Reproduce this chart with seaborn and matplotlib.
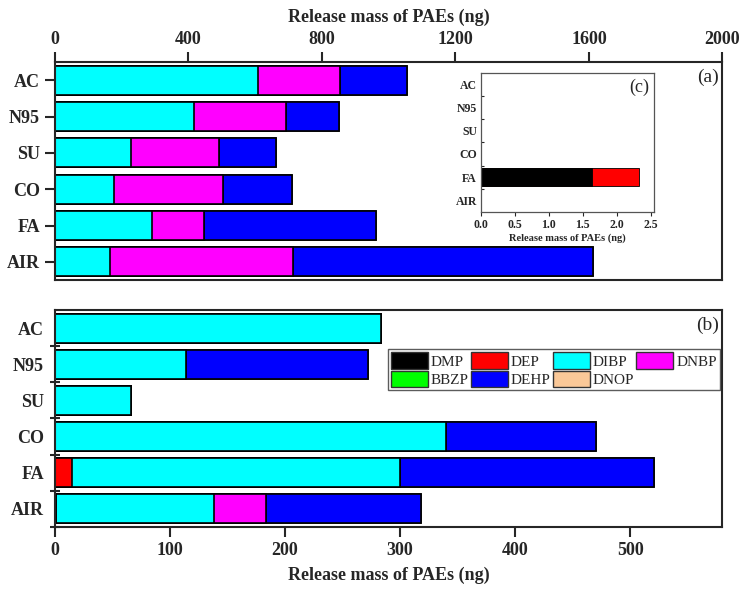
import numpy as np
import pandas as pd
import seaborn as sns
import matplotlib.pyplot as plt
from matplotlib.patches import Patch

sites = ['AC', 'N95', 'SU', 'CO', 'FA', 'AIR']
paes = ['DMP', 'DEP', 'DIBP', 'DNBP', 'BBZP', 'DEHP', 'DNOP']
colors = ['#000000', '#ff0000', '#00ffff', '#ff00ff', '#00ff00', '#0000ff', '#fac898']

# panel (a)
a_dmp = [0, 0, 0, 0, 1.63, 0]
a_dep = [0, 0, 0, 0, 0.70, 0]
a_dibp = [609, 419, 230, 178, 289, 166]
a_dnbp = [246, 273, 261, 327, 157, 547]
a_bbzp = [0, 0, 0, 0, 0, 0]
a_dehp = [201, 161, 173, 205, 514, 898]
a_dnop = [0, 0, 0, 0, 0, 0]

# panel (b)
b_dmp = [0, 0, 0, 0, 0, 1.2]
b_dep = [0, 0, 0, 0, 14.4, 0]
b_dibp = [283.5, 114, 66, 339.5, 285.6, 137]
b_dnbp = [0, 0, 0, 0, 0, 45]
b_bbzp = [0, 0, 0, 0, 0, 0]
b_dehp = [0, 158, 0, 130.5, 221, 135]
b_dnop = [0, 0, 0, 0, 0, 0]

df_a = pd.DataFrame(dict(zip(paes, [a_dmp, a_dep, a_dibp, a_dnbp, a_bbzp, a_dehp, a_dnop])), index=sites)
df_b = pd.DataFrame(dict(zip(paes, [b_dmp, b_dep, b_dibp, b_dnbp, b_bbzp, b_dehp, b_dnop])), index=sites)
df_c = df_a[['DMP', 'DEP']]

sns.set_style('ticks')
plt.rcParams['font.family'] = 'Liberation Serif'
plt.rcParams['axes.linewidth'] = 1.5


def stacked(ax, df, cols, lw=1.2):
    cum = df[cols].cumsum(axis=1)
    for name in reversed(cols):
        d = pd.DataFrame({'site': sites, 'val': cum[name].values})
        sns.barplot(data=d, x='val', y='site', order=sites, orient='h',
                    color=colors[paes.index(name)], saturation=1, width=0.8,
                    edgecolor='black', linewidth=lw, errorbar=None, ax=ax)
    ax.set_ylabel('')
    ax.set_xlabel('')
    ax.set_ylim(5.5, -0.5)


fig = plt.figure(figsize=(7.43, 6.02), dpi=100)

# panel (a)
ax1 = fig.add_axes([0.0734, 0.535, 0.899, 0.3615])
stacked(ax1, df_a, paes)
ax1.set_xlim(0, 2000)
ax1.set_xticks([0, 400, 800, 1200, 1600, 2000])
ax1.xaxis.tick_top()
ax1.xaxis.set_label_position('top')
ax1.set_xlabel('Release mass of PAEs (ng)', fontsize=13, fontweight='bold', labelpad=6)
ax1.tick_params(axis='both', direction='out', length=7, width=1.5, labelsize=13)
for lab in ax1.get_xticklabels() + ax1.get_yticklabels():
    lab.set_fontweight('bold')
ax1.text(0.995, 0.97, '(a)', transform=ax1.transAxes, ha='right', va='top', fontsize=14)

# inset (c)
ax3 = fig.add_axes([0.6474, 0.648, 0.2328, 0.231])
stacked(ax3, df_c, ['DMP', 'DEP'], lw=0.6)
ax3.set_xlim(0, 2.55)
ax3.set_xticks([0, 0.5, 1.0, 1.5, 2.0, 2.5])
ax3.set_xticklabels(['0.0', '0.5', '1.0', '1.5', '2.0', '2.5'])
ax3.set_xlabel('Release mass of PAEs (ng)', fontsize=7.5, fontweight='bold', labelpad=2)
ax3.tick_params(axis='x', direction='out', length=3, width=0.8, labelsize=8.5, pad=2)
ax3.tick_params(axis='y', length=0, labelsize=8.5, pad=3)
ax3.set_yticks([0.5, 1.5, 2.5, 3.5, 4.5], minor=True)
ax3.tick_params(axis='y', which='minor', direction='in', length=2, width=0.8)
for lab in ax3.get_xticklabels() + ax3.get_yticklabels():
    lab.set_fontweight('bold')
for s in ax3.spines.values():
    s.set_linewidth(0.9)
    s.set_color('#555555')
ax3.text(0.97, 0.96, '(c)', transform=ax3.transAxes, ha='right', va='top', fontsize=13)

# panel (b)
ax2 = fig.add_axes([0.074, 0.1246, 0.898, 0.3605])
stacked(ax2, df_b, paes)
ax2.set_xlim(0, 580)
ax2.set_xticks([0, 100, 200, 300, 400, 500])
ax2.set_xlabel('Release mass of PAEs (ng)', fontsize=13, fontweight='bold', labelpad=6)
ax2.tick_params(axis='x', direction='out', length=7, width=1.5, labelsize=13)
ax2.tick_params(axis='y', length=0, labelsize=13, pad=8)
ax2.set_yticks([0.5, 1.5, 2.5, 3.5, 4.5, 5.5], minor=True)
ax2.tick_params(axis='y', which='minor', direction='inout', length=7, width=1.5)
for lab in ax2.get_xticklabels() + ax2.get_yticklabels():
    lab.set_fontweight('bold')
ax2.text(0.995, 0.97, '(b)', transform=ax2.transAxes, ha='right', va='top', fontsize=14)

# legend filled row by row like the original: reorder for column-wise filling
leg_order = ['DMP', 'BBZP', 'DEP', 'DEHP', 'DIBP', 'DNOP', 'DNBP']
handles = [Patch(facecolor=colors[paes.index(p)], edgecolor='#333333', linewidth=1.0, label=p)
           for p in leg_order]
leg = ax2.legend(handles=handles, ncol=4, loc='upper left', bbox_to_anchor=(0.499, 0.82),
                 fontsize=11, frameon=True, fancybox=False, edgecolor='#333333',
                 handlelength=2.4, handleheight=1.3, handletextpad=0.2, columnspacing=0.15,
                 labelspacing=0.12, borderpad=0.2, borderaxespad=0)
leg.get_frame().set_linewidth(1.0)

fig.savefig('out.png', dpi=100)
